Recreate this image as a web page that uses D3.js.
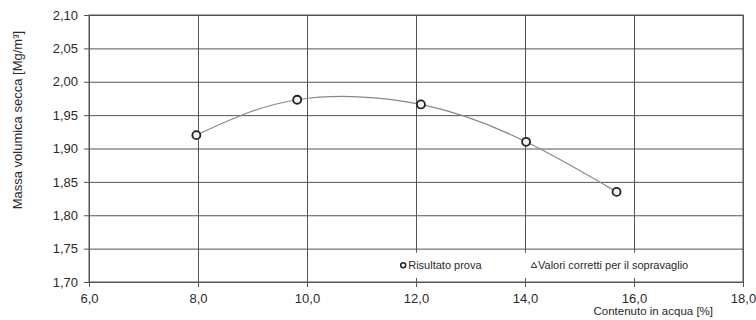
<!DOCTYPE html>
<html>
<head>
<meta charset="utf-8">
<script src="https://cdn.jsdelivr.net/npm/d3@7"></script>
<style>
  body { margin: 0; background: #fff; }
  svg { font-family: "Liberation Sans", Arial, sans-serif; }
</style>
</head>
<body>
<div class="container"></div>
<script>
// valori
var waterContent = [7.97, 9.82, 12.09, 14.02, 15.68];
var dryDensity = [1.920, 1.973, 1.966, 1.910, 1.835];
var xTicks = [6, 8, 10, 12, 14, 16, 18];
var yTicks = [1.70, 1.75, 1.80, 1.85, 1.90, 1.95, 2.00, 2.05, 2.10];
var legendLabels = ["Risultato prova", "Valori corretti per il sopravaglio"];

var data = waterContent.map(function(w, i) {
    return { w: w, d: dryDensity[i] };
});

var margin = { top: 15, right: 13, bottom: 38, left: 89 };
var width = 756 - margin.left - margin.right;
var height = 320 - margin.top - margin.bottom;

var it = d3.formatLocale({ decimal: ",", thousands: ".", grouping: [3], currency: ["", "€"] });
var fx = it.format(".1f");
var fy = it.format(".2f");

var svg = d3.select("body").select(".container")
    .append("svg")
    .attr("width", 756)
    .attr("height", 320)
    .append("g")
    .attr("transform", "translate(" + margin.left + "," + margin.top + ")");

var x = d3.scaleLinear().domain([6, 18]).range([0, width]);
var y = d3.scaleLinear().domain([1.70, 2.10]).range([height, 0]);

// griglia orizzontale + etichette
svg.append("g")
    .call(d3.axisLeft(y).tickValues(yTicks).tickFormat(fy).tickSize(-width).tickPadding(11))
    .call(function(g) {
        g.select(".domain").remove();
        g.selectAll("line").attr("stroke", "#555").attr("x1", -5);
        g.selectAll("text").attr("fill", "#2a2a2a").style("font-size", "13px");
    });

// griglia verticale + etichette
svg.append("g")
    .attr("transform", "translate(0," + height + ")")
    .call(d3.axisBottom(x).tickValues(xTicks).tickFormat(fx).tickSize(-height).tickPadding(12))
    .call(function(g) {
        g.select(".domain").remove();
        g.selectAll("line").attr("stroke", "#555").attr("y1", 5);
        g.selectAll("text").attr("fill", "#2a2a2a").style("font-size", "13px");
    });

// bordo
svg.append("rect")
    .attr("width", width)
    .attr("height", height)
    .attr("fill", "none")
    .attr("stroke", "#555");

// curva
var line = d3.line()
    .x(function(d) { return x(d.w); })
    .y(function(d) { return y(d.d); })
    .curve(d3.curveNatural);

svg.append("path")
    .datum(data)
    .attr("fill", "none")
    .attr("stroke", "#888")
    .attr("stroke-width", 1.2)
    .attr("d", line);

svg.selectAll(".pt")
    .data(data)
    .enter()
    .append("circle")
    .attr("class", "pt")
    .attr("cx", function(d) { return x(d.w); })
    .attr("cy", function(d) { return y(d.d); })
    .attr("r", 4)
    .attr("fill", "#f4f4f4")
    .attr("stroke", "#222")
    .attr("stroke-width", 1.8);

// legenda
var leg = svg.append("g")
    .attr("transform", "translate(" + x(10.6) + "," + (y(1.75) + 4) + ")");

leg.append("rect")
    .attr("width", x(18) - x(10.6) - 1)
    .attr("height", y(1.70) - y(1.75) - 8)
    .attr("fill", "#fff");

var ly = (y(1.70) - y(1.75) - 8) / 2;

leg.append("circle")
    .attr("cx", x(11.6) - x(10.6) + 9)
    .attr("cy", ly)
    .attr("r", 2.5)
    .attr("fill", "#fff")
    .attr("stroke", "#222")
    .attr("stroke-width", 1.5);

leg.append("text")
    .attr("x", x(11.6) - x(10.6) + 14)
    .attr("y", ly + 4)
    .attr("fill", "#2a2a2a")
    .style("font-size", "11px")
    .text(legendLabels[0]);

leg.append("path")
    .attr("d", d3.symbol().type(d3.symbolTriangle).size(14))
    .attr("transform", "translate(" + (x(14.0) - x(10.6) + 9) + "," + (ly + 0.5) + ")")
    .attr("fill", "#fff")
    .attr("stroke", "#333")
    .attr("stroke-width", 1);

leg.append("text")
    .attr("x", x(14.0) - x(10.6) + 13)
    .attr("y", ly + 4)
    .attr("fill", "#2a2a2a")
    .style("font-size", "11px")
    .text(legendLabels[1]);

// titoli assi
svg.append("text")
    .attr("transform", "translate(" + (-67) + "," + (y(1.95) + 5) + ") rotate(-90)")
    .attr("text-anchor", "middle")
    .attr("fill", "#2a2a2a")
    .style("font-size", "13px")
    .text("Massa volumica secca [Mg/m³]");

svg.append("text")
    .attr("x", x(17.45))
    .attr("y", height + 33)
    .attr("text-anchor", "end")
    .attr("fill", "#2a2a2a")
    .style("font-size", "11.5px")
    .text("Contenuto in acqua [%]");
</script>
</body>
</html>
